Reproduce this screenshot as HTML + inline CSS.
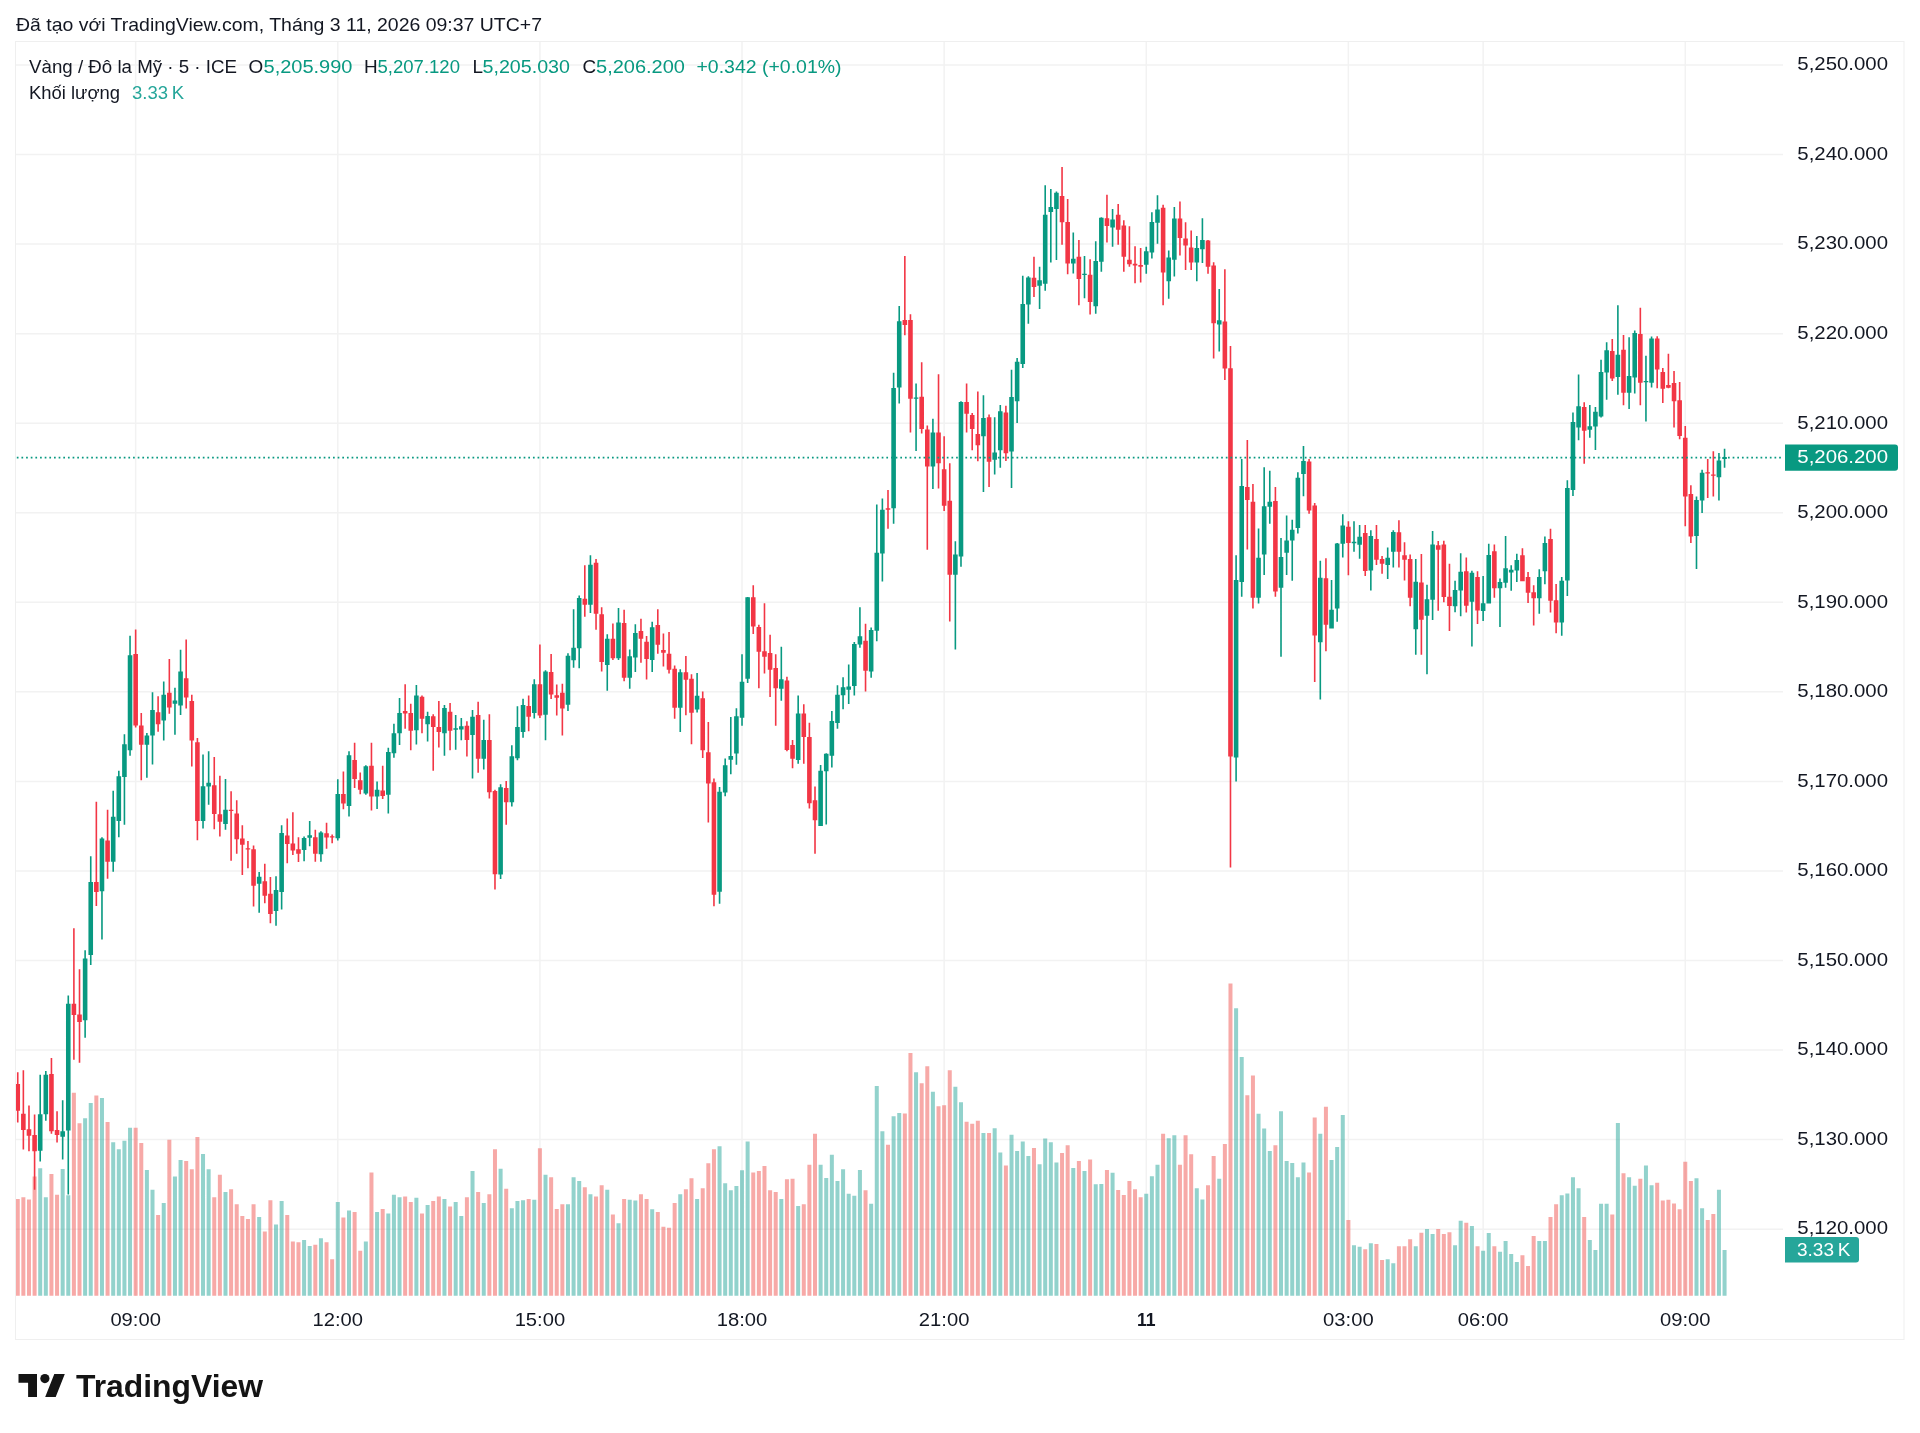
<!DOCTYPE html>
<html><head><meta charset="utf-8"><title>TradingView chart</title>
<style>
html,body{margin:0;padding:0;background:#fff;width:1920px;height:1433px;overflow:hidden}
svg{display:block;will-change:transform}
text{font-family:"Liberation Sans",Arial,sans-serif}
</style></head><body>
<svg width="1920" height="1433" viewBox="0 0 1920 1433">
<rect width="1920" height="1433" fill="#ffffff"/>
<path d="M16 65.00H1783 M16 154.55H1783 M16 244.10H1783 M16 333.65H1783 M16 423.20H1783 M16 512.75H1783 M16 602.30H1783 M16 691.85H1783 M16 781.40H1783 M16 870.95H1783 M16 960.50H1783 M16 1050.05H1783 M16 1139.60H1783 M16 1229.15H1783 M135.65 42V1296 M337.78 42V1296 M539.90 42V1296 M742.02 42V1296 M944.14 42V1296 M1146.26 42V1296 M1348.39 42V1296 M1483.13 42V1296 M1685.26 42V1296" stroke="#f2f2f2" stroke-width="1.5" fill="none"/>
<rect x="15.5" y="41.5" width="1888.5" height="1298" fill="none" stroke="#efefef" stroke-width="1"/>
<defs><clipPath id="pane"><rect x="16" y="42" width="1767" height="1254"/></clipPath></defs>
<g clip-path="url(#pane)">
<path d="M38.21 1168.19h4.0V1295.7h-4.0zM43.82 1197.34h4.0V1295.7h-4.0zM60.67 1168.94h4.0V1295.7h-4.0zM66.28 1195.33h4.0V1295.7h-4.0zM83.12 1118.19h4.0V1295.7h-4.0zM88.74 1103.12h4.0V1295.7h-4.0zM99.97 1098.06h4.0V1295.7h-4.0zM111.20 1142.14h4.0V1295.7h-4.0zM116.81 1149.22h4.0V1295.7h-4.0zM122.43 1140.69h4.0V1295.7h-4.0zM128.04 1127.63h4.0V1295.7h-4.0zM144.88 1170.08h4.0V1295.7h-4.0zM150.50 1189.67h4.0V1295.7h-4.0zM161.73 1202.92h4.0V1295.7h-4.0zM172.96 1176.43h4.0V1295.7h-4.0zM178.57 1160.10h4.0V1295.7h-4.0zM201.03 1153.93h4.0V1295.7h-4.0zM206.64 1169.35h4.0V1295.7h-4.0zM223.49 1192.03h4.0V1295.7h-4.0zM257.17 1216.89h4.0V1295.7h-4.0zM274.02 1224.51h4.0V1295.7h-4.0zM279.63 1200.92h4.0V1295.7h-4.0zM302.09 1239.93h4.0V1295.7h-4.0zM307.70 1245.91h4.0V1295.7h-4.0zM318.93 1238.29h4.0V1295.7h-4.0zM335.78 1202.01h4.0V1295.7h-4.0zM347.01 1210.54h4.0V1295.7h-4.0zM363.85 1241.38h4.0V1295.7h-4.0zM375.08 1211.99h4.0V1295.7h-4.0zM386.31 1213.62h4.0V1295.7h-4.0zM391.92 1194.75h4.0V1295.7h-4.0zM397.54 1197.29h4.0V1295.7h-4.0zM414.38 1197.84h4.0V1295.7h-4.0zM425.61 1205.09h4.0V1295.7h-4.0zM442.45 1199.11h4.0V1295.7h-4.0zM453.68 1202.01h4.0V1295.7h-4.0zM459.30 1215.98h4.0V1295.7h-4.0zM470.52 1170.99h4.0V1295.7h-4.0zM481.75 1202.92h4.0V1295.7h-4.0zM498.60 1168.81h4.0V1295.7h-4.0zM509.83 1208.18h4.0V1295.7h-4.0zM515.44 1201.10h4.0V1295.7h-4.0zM521.05 1200.20h4.0V1295.7h-4.0zM532.28 1199.65h4.0V1295.7h-4.0zM543.51 1174.80h4.0V1295.7h-4.0zM565.97 1204.19h4.0V1295.7h-4.0zM571.59 1177.34h4.0V1295.7h-4.0zM577.20 1180.97h4.0V1295.7h-4.0zM588.43 1194.21h4.0V1295.7h-4.0zM605.27 1189.67h4.0V1295.7h-4.0zM616.50 1223.24h4.0V1295.7h-4.0zM627.73 1199.65h4.0V1295.7h-4.0zM633.34 1200.56h4.0V1295.7h-4.0zM650.19 1209.27h4.0V1295.7h-4.0zM678.26 1194.21h4.0V1295.7h-4.0zM695.10 1199.11h4.0V1295.7h-4.0zM717.56 1146.13h4.0V1295.7h-4.0zM723.18 1183.32h4.0V1295.7h-4.0zM728.79 1190.22h4.0V1295.7h-4.0zM734.41 1186.04h4.0V1295.7h-4.0zM740.02 1170.26h4.0V1295.7h-4.0zM745.63 1141.60h4.0V1295.7h-4.0zM779.32 1199.11h4.0V1295.7h-4.0zM796.17 1206.00h4.0V1295.7h-4.0zM818.62 1164.82h4.0V1295.7h-4.0zM824.24 1177.88h4.0V1295.7h-4.0zM829.85 1154.66h4.0V1295.7h-4.0zM835.47 1180.97h4.0V1295.7h-4.0zM841.08 1169.35h4.0V1295.7h-4.0zM846.70 1193.66h4.0V1295.7h-4.0zM852.31 1195.66h4.0V1295.7h-4.0zM857.92 1170.08h4.0V1295.7h-4.0zM869.15 1203.64h4.0V1295.7h-4.0zM874.77 1085.90h4.0V1295.7h-4.0zM880.38 1131.26h4.0V1295.7h-4.0zM891.61 1116.20h4.0V1295.7h-4.0zM897.23 1112.93h4.0V1295.7h-4.0zM914.07 1072.29h4.0V1295.7h-4.0zM930.91 1091.71h4.0V1295.7h-4.0zM953.37 1086.63h4.0V1295.7h-4.0zM958.99 1102.23h4.0V1295.7h-4.0zM981.44 1133.07h4.0V1295.7h-4.0zM992.67 1128.35h4.0V1295.7h-4.0zM998.29 1152.48h4.0V1295.7h-4.0zM1009.52 1134.70h4.0V1295.7h-4.0zM1015.13 1151.03h4.0V1295.7h-4.0zM1020.75 1141.60h4.0V1295.7h-4.0zM1026.36 1156.11h4.0V1295.7h-4.0zM1037.59 1164.27h4.0V1295.7h-4.0zM1043.20 1138.51h4.0V1295.7h-4.0zM1048.82 1142.14h4.0V1295.7h-4.0zM1054.43 1162.46h4.0V1295.7h-4.0zM1071.28 1167.90h4.0V1295.7h-4.0zM1082.50 1170.99h4.0V1295.7h-4.0zM1093.73 1184.23h4.0V1295.7h-4.0zM1099.35 1184.12h4.0V1295.7h-4.0zM1110.58 1172.78h4.0V1295.7h-4.0zM1144.26 1193.87h4.0V1295.7h-4.0zM1149.88 1176.18h4.0V1295.7h-4.0zM1155.49 1164.84h4.0V1295.7h-4.0zM1166.72 1138.30h4.0V1295.7h-4.0zM1172.34 1135.35h4.0V1295.7h-4.0zM1194.79 1188.20h4.0V1295.7h-4.0zM1200.41 1199.54h4.0V1295.7h-4.0zM1217.25 1178.67h4.0V1295.7h-4.0zM1234.10 1008.34h4.0V1295.7h-4.0zM1239.71 1057.10h4.0V1295.7h-4.0zM1256.55 1113.81h4.0V1295.7h-4.0zM1262.17 1128.55h4.0V1295.7h-4.0zM1267.78 1151.03h4.0V1295.7h-4.0zM1279.01 1111.30h4.0V1295.7h-4.0zM1284.63 1161.01h4.0V1295.7h-4.0zM1290.24 1163.00h4.0V1295.7h-4.0zM1295.86 1177.34h4.0V1295.7h-4.0zM1301.47 1162.46h4.0V1295.7h-4.0zM1318.31 1133.80h4.0V1295.7h-4.0zM1329.54 1160.10h4.0V1295.7h-4.0zM1335.16 1147.04h4.0V1295.7h-4.0zM1340.77 1114.93h4.0V1295.7h-4.0zM1352.00 1245.37h4.0V1295.7h-4.0zM1357.62 1246.82h4.0V1295.7h-4.0zM1368.84 1243.19h4.0V1295.7h-4.0zM1385.69 1259.16h4.0V1295.7h-4.0zM1391.30 1263.15h4.0V1295.7h-4.0zM1413.76 1246.28h4.0V1295.7h-4.0zM1424.99 1229.04h4.0V1295.7h-4.0zM1430.60 1233.98h4.0V1295.7h-4.0zM1453.06 1245.15h4.0V1295.7h-4.0zM1458.68 1220.73h4.0V1295.7h-4.0zM1469.91 1226.03h4.0V1295.7h-4.0zM1481.13 1250.73h4.0V1295.7h-4.0zM1486.75 1233.01h4.0V1295.7h-4.0zM1497.98 1251.71h4.0V1295.7h-4.0zM1503.59 1240.96h4.0V1295.7h-4.0zM1509.21 1253.94h4.0V1295.7h-4.0zM1514.82 1261.90h4.0V1295.7h-4.0zM1537.28 1240.96h4.0V1295.7h-4.0zM1542.89 1240.96h4.0V1295.7h-4.0zM1559.74 1195.18h4.0V1295.7h-4.0zM1565.35 1193.51h4.0V1295.7h-4.0zM1570.97 1177.18h4.0V1295.7h-4.0zM1576.58 1188.21h4.0V1295.7h-4.0zM1587.81 1239.99h4.0V1295.7h-4.0zM1593.42 1250.03h4.0V1295.7h-4.0zM1599.04 1203.70h4.0V1295.7h-4.0zM1604.65 1203.70h4.0V1295.7h-4.0zM1615.88 1123.03h4.0V1295.7h-4.0zM1627.11 1177.18h4.0V1295.7h-4.0zM1632.73 1185.83h4.0V1295.7h-4.0zM1643.95 1165.60h4.0V1295.7h-4.0zM1649.57 1185.14h4.0V1295.7h-4.0zM1694.49 1178.16h4.0V1295.7h-4.0zM1700.10 1208.16h4.0V1295.7h-4.0zM1716.94 1189.74h4.0V1295.7h-4.0zM1722.56 1250.03h4.0V1295.7h-4.0z" fill="rgba(38,166,154,0.5)"/>
<path d="M15.75 1199.10h4.0V1295.7h-4.0zM21.36 1197.34h4.0V1295.7h-4.0zM26.98 1199.60h4.0V1295.7h-4.0zM32.59 1176.48h4.0V1295.7h-4.0zM49.44 1173.97h4.0V1295.7h-4.0zM55.05 1194.82h4.0V1295.7h-4.0zM71.89 1092.81h4.0V1295.7h-4.0zM77.51 1123.22h4.0V1295.7h-4.0zM94.35 1095.58h4.0V1295.7h-4.0zM105.58 1122.00h4.0V1295.7h-4.0zM133.65 1127.63h4.0V1295.7h-4.0zM139.27 1143.05h4.0V1295.7h-4.0zM156.11 1215.07h4.0V1295.7h-4.0zM167.34 1139.78h4.0V1295.7h-4.0zM184.19 1161.01h4.0V1295.7h-4.0zM189.80 1169.35h4.0V1295.7h-4.0zM195.41 1137.06h4.0V1295.7h-4.0zM212.26 1197.29h4.0V1295.7h-4.0zM217.87 1174.80h4.0V1295.7h-4.0zM229.10 1189.13h4.0V1295.7h-4.0zM234.72 1204.19h4.0V1295.7h-4.0zM240.33 1215.98h4.0V1295.7h-4.0zM245.94 1219.06h4.0V1295.7h-4.0zM251.56 1204.19h4.0V1295.7h-4.0zM262.79 1231.40h4.0V1295.7h-4.0zM268.40 1200.20h4.0V1295.7h-4.0zM285.25 1215.07h4.0V1295.7h-4.0zM290.86 1241.38h4.0V1295.7h-4.0zM296.47 1242.29h4.0V1295.7h-4.0zM313.32 1244.64h4.0V1295.7h-4.0zM324.55 1242.29h4.0V1295.7h-4.0zM330.16 1259.16h4.0V1295.7h-4.0zM341.39 1217.43h4.0V1295.7h-4.0zM352.62 1211.99h4.0V1295.7h-4.0zM358.23 1250.81h4.0V1295.7h-4.0zM369.46 1172.44h4.0V1295.7h-4.0zM380.69 1209.09h4.0V1295.7h-4.0zM403.15 1196.39h4.0V1295.7h-4.0zM408.76 1202.01h4.0V1295.7h-4.0zM419.99 1213.62h4.0V1295.7h-4.0zM431.22 1200.92h4.0V1295.7h-4.0zM436.84 1196.39h4.0V1295.7h-4.0zM448.07 1206.55h4.0V1295.7h-4.0zM464.91 1197.29h4.0V1295.7h-4.0zM476.14 1192.03h4.0V1295.7h-4.0zM487.37 1194.21h4.0V1295.7h-4.0zM492.98 1149.22h4.0V1295.7h-4.0zM504.21 1188.77h4.0V1295.7h-4.0zM526.67 1199.11h4.0V1295.7h-4.0zM537.90 1148.31h4.0V1295.7h-4.0zM549.13 1177.34h4.0V1295.7h-4.0zM554.74 1209.09h4.0V1295.7h-4.0zM560.36 1204.19h4.0V1295.7h-4.0zM582.81 1187.31h4.0V1295.7h-4.0zM594.04 1196.57h4.0V1295.7h-4.0zM599.66 1185.14h4.0V1295.7h-4.0zM610.89 1214.53h4.0V1295.7h-4.0zM622.12 1199.11h4.0V1295.7h-4.0zM638.96 1194.21h4.0V1295.7h-4.0zM644.57 1199.11h4.0V1295.7h-4.0zM655.80 1211.99h4.0V1295.7h-4.0zM661.42 1226.87h4.0V1295.7h-4.0zM667.03 1227.77h4.0V1295.7h-4.0zM672.65 1202.92h4.0V1295.7h-4.0zM683.88 1189.13h4.0V1295.7h-4.0zM689.49 1178.24h4.0V1295.7h-4.0zM700.72 1188.22h4.0V1295.7h-4.0zM706.33 1163.37h4.0V1295.7h-4.0zM711.95 1149.22h4.0V1295.7h-4.0zM751.25 1172.44h4.0V1295.7h-4.0zM756.86 1170.99h4.0V1295.7h-4.0zM762.48 1166.09h4.0V1295.7h-4.0zM768.09 1190.22h4.0V1295.7h-4.0zM773.71 1192.03h4.0V1295.7h-4.0zM784.94 1179.33h4.0V1295.7h-4.0zM790.55 1178.79h4.0V1295.7h-4.0zM801.78 1204.19h4.0V1295.7h-4.0zM807.39 1164.82h4.0V1295.7h-4.0zM813.01 1133.80h4.0V1295.7h-4.0zM863.54 1190.22h4.0V1295.7h-4.0zM886.00 1144.68h4.0V1295.7h-4.0zM902.84 1113.48h4.0V1295.7h-4.0zM908.46 1053.06h4.0V1295.7h-4.0zM919.68 1083.18h4.0V1295.7h-4.0zM925.30 1066.31h4.0V1295.7h-4.0zM936.53 1106.22h4.0V1295.7h-4.0zM942.14 1105.31h4.0V1295.7h-4.0zM947.76 1070.30h4.0V1295.7h-4.0zM964.60 1121.64h4.0V1295.7h-4.0zM970.21 1123.82h4.0V1295.7h-4.0zM975.83 1120.73h4.0V1295.7h-4.0zM987.06 1133.07h4.0V1295.7h-4.0zM1003.90 1165.54h4.0V1295.7h-4.0zM1031.97 1147.95h4.0V1295.7h-4.0zM1060.05 1153.03h4.0V1295.7h-4.0zM1065.66 1145.22h4.0V1295.7h-4.0zM1076.89 1161.01h4.0V1295.7h-4.0zM1088.12 1159.38h4.0V1295.7h-4.0zM1104.96 1170.06h4.0V1295.7h-4.0zM1116.19 1190.01h4.0V1295.7h-4.0zM1121.81 1195.00h4.0V1295.7h-4.0zM1127.42 1180.94h4.0V1295.7h-4.0zM1133.04 1189.33h4.0V1295.7h-4.0zM1138.65 1197.27h4.0V1295.7h-4.0zM1161.11 1133.77h4.0V1295.7h-4.0zM1177.95 1164.84h4.0V1295.7h-4.0zM1183.57 1135.35h4.0V1295.7h-4.0zM1189.18 1154.18h4.0V1295.7h-4.0zM1206.02 1185.25h4.0V1295.7h-4.0zM1211.64 1155.99h4.0V1295.7h-4.0zM1222.87 1143.97h4.0V1295.7h-4.0zM1228.48 983.39h4.0V1295.7h-4.0zM1245.33 1095.21h4.0V1295.7h-4.0zM1250.94 1075.48h4.0V1295.7h-4.0zM1273.40 1145.22h4.0V1295.7h-4.0zM1307.08 1172.44h4.0V1295.7h-4.0zM1312.70 1117.47h4.0V1295.7h-4.0zM1323.93 1106.76h4.0V1295.7h-4.0zM1346.39 1219.97h4.0V1295.7h-4.0zM1363.23 1249.18h4.0V1295.7h-4.0zM1374.46 1244.10h4.0V1295.7h-4.0zM1380.07 1260.07h4.0V1295.7h-4.0zM1396.92 1246.28h4.0V1295.7h-4.0zM1402.53 1246.28h4.0V1295.7h-4.0zM1408.15 1239.20h4.0V1295.7h-4.0zM1419.38 1232.85h4.0V1295.7h-4.0zM1436.22 1229.10h4.0V1295.7h-4.0zM1441.83 1233.98h4.0V1295.7h-4.0zM1447.45 1232.17h4.0V1295.7h-4.0zM1464.29 1222.82h4.0V1295.7h-4.0zM1475.52 1246.13h4.0V1295.7h-4.0zM1492.36 1246.13h4.0V1295.7h-4.0zM1520.44 1255.34h4.0V1295.7h-4.0zM1526.05 1266.09h4.0V1295.7h-4.0zM1531.66 1236.08h4.0V1295.7h-4.0zM1548.51 1216.96h4.0V1295.7h-4.0zM1554.12 1204.26h4.0V1295.7h-4.0zM1582.20 1216.96h4.0V1295.7h-4.0zM1610.27 1214.45h4.0V1295.7h-4.0zM1621.50 1173.27h4.0V1295.7h-4.0zM1638.34 1178.86h4.0V1295.7h-4.0zM1655.18 1182.76h4.0V1295.7h-4.0zM1660.80 1200.49h4.0V1295.7h-4.0zM1666.41 1199.79h4.0V1295.7h-4.0zM1672.03 1203.56h4.0V1295.7h-4.0zM1677.64 1209.14h4.0V1295.7h-4.0zM1683.26 1161.83h4.0V1295.7h-4.0zM1688.87 1180.95h4.0V1295.7h-4.0zM1705.71 1220.03h4.0V1295.7h-4.0zM1711.33 1214.03h4.0V1295.7h-4.0z" fill="rgba(239,83,80,0.5)"/>
<path d="M39.41 1074.72h1.6V1161.41h-1.6zM37.91 1114.17h4.6V1150.85h-4.6zM45.02 1070.95h1.6V1120.70h-1.6zM43.52 1074.72h4.6V1114.17h-4.6zM61.87 1100.35h1.6V1159.40h-1.6zM60.37 1131.26h4.6V1136.78h-4.6zM67.48 995.58h1.6V1194.57h-1.6zM65.98 1003.87h4.6V1130.50h-4.6zM84.32 950.35h1.6V1037.79h-1.6zM82.82 958.39h4.6V1020.20h-4.6zM89.94 856.18h1.6V964.97h-1.6zM88.44 882.06h4.6V954.92h-4.6zM101.17 837.34h1.6V939.60h-1.6zM99.67 838.59h4.6V891.36h-4.6zM112.40 790.85h1.6V871.76h-1.6zM110.90 816.73h4.6V861.71h-4.6zM118.01 770.75h1.6V837.34h-1.6zM116.51 776.28h4.6V821.01h-4.6zM123.63 734.32h1.6V824.77h-1.6zM122.13 744.37h4.6V777.04h-4.6zM129.24 635.83h1.6V755.68h-1.6zM127.74 655.18h4.6V750.15h-4.6zM146.08 733.07h1.6V777.79h-1.6zM144.58 735.58h4.6V744.87h-4.6zM151.70 692.36h1.6V764.47h-1.6zM150.20 709.95h4.6V735.58h-4.6zM162.93 681.56h1.6V740.60h-1.6zM161.43 694.87h4.6V720.50h-4.6zM174.16 687.84h1.6V734.82h-1.6zM172.66 700.40h4.6V703.67h-4.6zM179.77 649.65h1.6V714.97h-1.6zM178.27 671.51h4.6V705.43h-4.6zM202.23 754.42h1.6V828.54h-1.6zM200.73 786.33h4.6V821.01h-4.6zM207.84 751.16h1.6V804.67h-1.6zM206.34 782.81h4.6V786.58h-4.6zM224.69 779.05h1.6V829.80h-1.6zM223.19 809.70h4.6V824.02h-4.6zM258.37 872.01h1.6V912.71h-1.6zM256.87 876.78h4.6V883.82h-4.6zM275.22 876.28h1.6V925.78h-1.6zM273.72 890.10h4.6V910.95h-4.6zM280.83 825.28h1.6V909.45h-1.6zM279.33 833.07h4.6V892.11h-4.6zM303.29 836.58h1.6V861.21h-1.6zM301.79 838.09h4.6V849.90h-4.6zM308.90 821.01h1.6V846.13h-1.6zM307.40 835.33h4.6V837.84h-4.6zM320.13 831.16h1.6V861.81h-1.6zM318.63 832.41h4.6V854.27h-4.6zM336.98 779.15h1.6V840.45h-1.6zM335.48 793.97h4.6V838.19h-4.6zM348.21 751.26h1.6V816.58h-1.6zM346.71 755.28h4.6V806.03h-4.6zM365.05 765.33h1.6V794.72h-1.6zM363.55 766.33h4.6V793.47h-4.6zM376.28 781.41h1.6V809.05h-1.6zM374.78 789.70h4.6V796.48h-4.6zM387.51 747.74h1.6V813.57h-1.6zM386.01 752.01h4.6V794.72h-4.6zM393.12 723.87h1.6V757.79h-1.6zM391.62 733.17h4.6V753.27h-4.6zM398.74 697.99h1.6V744.97h-1.6zM397.24 713.07h4.6V733.17h-4.6zM415.58 684.92h1.6V744.47h-1.6zM414.08 695.48h4.6V730.15h-4.6zM426.81 711.81h1.6V741.46h-1.6zM425.31 716.08h4.6V724.37h-4.6zM443.65 705.03h1.6V755.78h-1.6zM442.15 708.04h4.6V733.17h-4.6zM454.88 715.08h1.6V749.75h-1.6zM453.38 728.14h4.6V729.65h-4.6zM460.50 718.09h1.6V740.20h-1.6zM459.00 726.13h4.6V729.40h-4.6zM471.72 710.05h1.6V778.39h-1.6zM470.22 716.83h4.6V734.92h-4.6zM482.95 719.85h1.6V769.60h-1.6zM481.45 739.95h4.6V758.79h-4.6zM499.80 784.17h1.6V878.89h-1.6zM498.30 787.19h4.6V874.62h-4.6zM511.03 745.23h1.6V806.53h-1.6zM509.53 756.28h4.6V802.26h-4.6zM516.64 706.28h1.6V760.30h-1.6zM515.14 726.88h4.6V758.29h-4.6zM522.25 698.74h1.6V737.69h-1.6zM520.75 705.03h4.6V731.91h-4.6zM533.48 679.15h1.6V718.59h-1.6zM531.98 684.17h4.6V713.07h-4.6zM544.71 670.35h1.6V740.20h-1.6zM543.21 671.61h4.6V714.82h-4.6zM567.17 653.17h1.6V710.95h-1.6zM565.67 655.68h4.6V704.67h-4.6zM572.79 609.20h1.6V667.74h-1.6zM571.29 647.64h4.6V660.20h-4.6zM578.40 595.38h1.6V668.24h-1.6zM576.90 597.89h4.6V648.14h-4.6zM589.63 555.18h1.6V612.96h-1.6zM588.13 564.72h4.6V604.67h-4.6zM606.47 634.32h1.6V690.85h-1.6zM604.97 638.84h4.6V664.97h-4.6zM617.70 607.94h1.6V659.95h-1.6zM616.20 622.51h4.6V658.19h-4.6zM628.93 649.40h1.6V688.84h-1.6zM627.43 656.18h4.6V677.79h-4.6zM634.54 624.27h1.6V672.01h-1.6zM633.04 633.07h4.6V657.44h-4.6zM651.39 621.76h1.6V672.01h-1.6zM649.89 627.29h4.6V659.95h-4.6zM679.46 669.30h1.6V732.11h-1.6zM677.96 672.31h4.6V707.74h-4.6zM696.30 673.07h1.6V712.51h-1.6zM694.80 695.68h4.6V709.50h-4.6zM718.76 786.88h1.6V903.72h-1.6zM717.26 791.66h4.6V891.66h-4.6zM724.38 758.49h1.6V796.18h-1.6zM722.88 765.28h4.6V792.41h-4.6zM729.99 717.04h1.6V774.32h-1.6zM728.49 755.98h4.6V759.75h-4.6zM735.61 708.24h1.6V764.77h-1.6zM734.11 716.28h4.6V753.47h-4.6zM741.22 654.22h1.6V725.83h-1.6zM739.72 681.86h4.6V717.79h-4.6zM746.84 596.93h1.6V683.12h-1.6zM745.34 597.19h4.6V678.84h-4.6zM780.52 646.68h1.6V700.70h-1.6zM779.02 679.35h4.6V688.64h-4.6zM797.37 695.48h1.6V763.82h-1.6zM795.87 713.57h4.6V760.05h-4.6zM819.82 765.08h1.6V825.88h-1.6zM818.32 770.85h4.6V825.88h-4.6zM825.44 753.27h1.6V824.62h-1.6zM823.94 753.77h4.6V771.36h-4.6zM831.05 711.06h1.6V767.59h-1.6zM829.55 721.11h4.6V755.78h-4.6zM836.67 685.18h1.6V728.64h-1.6zM835.17 694.72h4.6V723.12h-4.6zM842.28 677.14h1.6V709.30h-1.6zM840.78 687.19h4.6V695.23h-4.6zM847.90 664.57h1.6V704.02h-1.6zM846.40 686.43h4.6V689.70h-4.6zM853.51 641.96h1.6V695.48h-1.6zM852.01 643.97h4.6V685.93h-4.6zM859.12 607.29h1.6V647.74h-1.6zM857.62 636.18h4.6V644.47h-4.6zM870.35 627.39h1.6V677.64h-1.6zM868.85 629.90h4.6V671.61h-4.6zM875.97 504.52h1.6V641.21h-1.6zM874.47 552.76h4.6V630.65h-4.6zM881.58 498.50h1.6V581.44h-1.6zM880.08 509.64h4.6V553.60h-4.6zM892.81 372.77h1.6V523.70h-1.6zM891.31 388.01h4.6V508.17h-4.6zM898.43 305.94h1.6V403.54h-1.6zM896.93 321.18h4.6V387.42h-4.6zM915.27 383.61h1.6V451.02h-1.6zM913.77 397.39h4.6V398.85h-4.6zM932.11 418.78h1.6V489.12h-1.6zM930.61 432.56h4.6V466.55h-4.6zM954.57 541.29h1.6V649.44h-1.6zM953.07 554.48h4.6V574.70h-4.6zM960.19 401.20h1.6V566.79h-1.6zM958.69 402.08h4.6V556.53h-4.6zM982.64 395.33h1.6V492.05h-1.6zM981.14 417.90h4.6V436.37h-4.6zM993.87 417.32h1.6V474.47h-1.6zM992.37 452.49h4.6V459.81h-4.6zM999.49 405.03h1.6V467.84h-1.6zM997.99 411.31h4.6V450.25h-4.6zM1010.72 369.85h1.6V487.94h-1.6zM1009.22 396.98h4.6V451.51h-4.6zM1016.33 358.04h1.6V423.12h-1.6zM1014.83 361.81h4.6V401.26h-4.6zM1021.95 275.63h1.6V368.09h-1.6zM1020.45 304.02h4.6V364.07h-4.6zM1027.56 276.13h1.6V323.87h-1.6zM1026.06 277.39h4.6V304.52h-4.6zM1038.79 266.83h1.6V309.05h-1.6zM1037.29 280.15h4.6V285.68h-4.6zM1044.40 185.18h1.6V290.70h-1.6zM1042.90 214.82h4.6V283.67h-4.6zM1050.02 188.94h1.6V262.56h-1.6zM1048.52 207.04h4.6V212.06h-4.6zM1055.63 191.46h1.6V260.05h-1.6zM1054.13 192.71h4.6V209.05h-4.6zM1072.48 232.41h1.6V273.62h-1.6zM1070.98 258.79h4.6V263.57h-4.6zM1083.70 256.03h1.6V298.24h-1.6zM1082.20 273.77h4.6V274.97h-4.6zM1094.93 241.21h1.6V313.82h-1.6zM1093.43 261.06h4.6V306.28h-4.6zM1100.55 217.34h1.6V271.86h-1.6zM1099.05 217.84h4.6V261.81h-4.6zM1111.78 209.05h1.6V246.73h-1.6zM1110.28 219.60h4.6V227.39h-4.6zM1145.46 246.73h1.6V273.87h-1.6zM1143.96 251.26h4.6V264.82h-4.6zM1151.08 212.31h1.6V258.54h-1.6zM1149.58 222.11h4.6V252.51h-4.6zM1156.69 195.23h1.6V243.72h-1.6zM1155.19 209.55h4.6V222.86h-4.6zM1167.92 250.50h1.6V298.74h-1.6zM1166.42 257.54h4.6V281.16h-4.6zM1173.54 207.04h1.6V276.38h-1.6zM1172.04 218.59h4.6V259.80h-4.6zM1195.99 235.93h1.6V281.16h-1.6zM1194.49 247.99h4.6V262.56h-4.6zM1201.61 218.34h1.6V263.07h-1.6zM1200.11 239.95h4.6V249.25h-4.6zM1218.45 288.94h1.6V351.51h-1.6zM1216.95 320.35h4.6V324.62h-4.6zM1235.30 555.20h1.6V781.60h-1.6zM1233.80 580.00h4.6V757.50h-4.6zM1240.91 458.94h1.6V596.63h-1.6zM1239.41 486.08h4.6V582.06h-4.6zM1257.75 528.54h1.6V603.42h-1.6zM1256.25 557.69h4.6V597.64h-4.6zM1263.37 467.24h1.6V575.03h-1.6zM1261.87 506.18h4.6V554.42h-4.6zM1268.98 470.75h1.6V523.77h-1.6zM1267.48 501.66h4.6V506.68h-4.6zM1280.21 538.09h1.6V656.68h-1.6zM1278.71 556.93h4.6V587.84h-4.6zM1285.83 515.48h1.6V575.03h-1.6zM1284.33 540.60h4.6V552.66h-4.6zM1291.44 519.75h1.6V580.80h-1.6zM1289.94 529.80h4.6V540.60h-4.6zM1297.06 472.26h1.6V533.57h-1.6zM1295.56 477.79h4.6V528.04h-4.6zM1302.67 445.88h1.6V496.13h-1.6zM1301.17 460.95h4.6V474.02h-4.6zM1319.51 560.70h1.6V699.40h-1.6zM1318.01 577.79h4.6V642.36h-4.6zM1330.74 580.05h1.6V628.54h-1.6zM1329.24 609.70h4.6V628.54h-4.6zM1336.36 543.12h1.6V621.76h-1.6zM1334.86 543.62h4.6V608.44h-4.6zM1341.97 514.22h1.6V557.44h-1.6zM1340.47 525.53h4.6V543.87h-4.6zM1353.20 521.14h1.6V551.69h-1.6zM1351.70 541.87h4.6V543.25h-4.6zM1358.82 524.98h1.6V558.75h-1.6zM1357.32 536.80h4.6V544.78h-4.6zM1370.04 530.35h1.6V590.53h-1.6zM1368.54 536.03h4.6V570.57h-4.6zM1386.89 547.55h1.6V579.02h-1.6zM1385.39 557.83h4.6V564.89h-4.6zM1392.50 530.20h1.6V567.50h-1.6zM1391.00 531.89h4.6V551.85h-4.6zM1414.96 559.06h1.6V654.70h-1.6zM1413.46 581.78h4.6V629.22h-4.6zM1426.19 584.85h1.6V674.20h-1.6zM1424.69 599.28h4.6V615.86h-4.6zM1431.80 531.12h1.6V620.01h-1.6zM1430.30 544.48h4.6V599.74h-4.6zM1454.26 580.86h1.6V612.33h-1.6zM1452.76 590.07h4.6V606.19h-4.6zM1459.88 553.23h1.6V616.17h-1.6zM1458.38 571.65h4.6V590.53h-4.6zM1471.11 570.86h1.6V646.54h-1.6zM1469.61 572.86h4.6V601.72h-4.6zM1482.33 575.93h1.6V620.91h-1.6zM1480.83 603.25h4.6V610.93h-4.6zM1487.95 543.69h1.6V603.56h-1.6zM1486.45 554.89h4.6V603.56h-4.6zM1499.18 578.54h1.6V626.89h-1.6zM1497.68 582.07h4.6V588.21h-4.6zM1504.79 536.01h1.6V587.75h-1.6zM1503.29 568.25h4.6V582.83h-4.6zM1510.41 565.18h1.6V590.82h-1.6zM1508.91 569.79h4.6V572.55h-4.6zM1516.02 553.67h1.6V582.07h-1.6zM1514.52 560.11h4.6V570.55h-4.6zM1538.48 569.32h1.6V613.84h-1.6zM1536.98 577.00h4.6V598.19h-4.6zM1544.09 536.47h1.6V584.37h-1.6zM1542.59 542.92h4.6V571.32h-4.6zM1560.94 577.00h1.6V635.80h-1.6zM1559.44 580.84h4.6V622.44h-4.6zM1566.55 480.29h1.6V595.88h-1.6zM1565.05 487.96h4.6V580.53h-4.6zM1572.17 412.44h1.6V496.03h-1.6zM1570.67 421.96h4.6V489.96h-4.6zM1577.78 374.60h1.6V440.17h-1.6zM1576.28 406.37h4.6V427.62h-4.6zM1589.01 404.96h1.6V437.74h-1.6zM1587.51 426.21h4.6V429.65h-4.6zM1594.62 406.98h1.6V449.89h-1.6zM1593.12 411.84h4.6V426.61h-4.6zM1600.24 359.82h1.6V417.50h-1.6zM1598.74 371.97h4.6V416.49h-4.6zM1605.85 342.22h1.6V399.69h-1.6zM1604.35 350.31h4.6V372.57h-4.6zM1617.08 305.18h1.6V394.63h-1.6zM1615.58 354.76h4.6V377.03h-4.6zM1628.31 337.16h1.6V409.00h-1.6zM1626.81 376.01h4.6V392.81h-4.6zM1633.93 330.48h1.6V393.62h-1.6zM1632.43 333.11h4.6V377.43h-4.6zM1645.15 355.78h1.6V421.55h-1.6zM1643.65 380.98h4.6V382.18h-4.6zM1650.77 336.55h1.6V387.55h-1.6zM1649.27 338.57h4.6V382.69h-4.6zM1695.69 496.44h1.6V568.89h-1.6zM1694.19 500.08h4.6V535.90h-4.6zM1701.30 469.72h1.6V513.03h-1.6zM1699.80 472.76h4.6V500.48h-4.6zM1718.14 452.92h1.6V500.48h-1.6zM1716.64 460.61h4.6V477.21h-4.6zM1723.76 448.87h1.6V467.70h-1.6zM1722.26 456.97h4.6V458.99h-4.6z" fill="#089981"/>
<path d="M16.95 1072.21h1.6V1122.46h-1.6zM15.45 1084.02h4.6V1110.65h-4.6zM22.56 1070.20h1.6V1149.60h-1.6zM21.06 1113.67h4.6V1130.00h-4.6zM28.18 1105.38h1.6V1151.36h-1.6zM26.68 1129.25h4.6V1135.78h-4.6zM33.79 1114.42h1.6V1189.80h-1.6zM32.29 1135.03h4.6V1151.36h-4.6zM50.64 1057.89h1.6V1133.77h-1.6zM49.14 1073.97h4.6V1131.26h-4.6zM56.25 1111.16h1.6V1142.56h-1.6zM54.75 1130.00h4.6V1135.03h-4.6zM73.09 928.24h1.6V1059.65h-1.6zM71.59 1003.87h4.6V1014.92h-4.6zM78.71 969.20h1.6V1062.66h-1.6zM77.21 1014.42h4.6V1021.96h-4.6zM95.55 801.66h1.6V905.93h-1.6zM94.05 882.06h4.6V892.11h-4.6zM106.78 809.70h1.6V878.79h-1.6zM105.28 840.60h4.6V861.71h-4.6zM134.85 629.55h1.6V727.54h-1.6zM133.35 653.92h4.6V725.53h-4.6zM140.47 712.96h1.6V780.30h-1.6zM138.97 725.53h4.6V744.87h-4.6zM157.31 696.13h1.6V731.81h-1.6zM155.81 712.21h4.6V724.27h-4.6zM168.54 658.94h1.6V713.72h-1.6zM167.04 692.86h4.6V707.44h-4.6zM185.38 639.60h1.6V708.44h-1.6zM183.88 678.29h4.6V697.39h-4.6zM191.00 694.87h1.6V766.48h-1.6zM189.50 700.90h4.6V740.60h-4.6zM196.61 738.09h1.6V840.35h-1.6zM195.11 742.36h4.6V821.01h-4.6zM213.46 756.93h1.6V829.30h-1.6zM211.96 785.33h4.6V813.97h-4.6zM219.07 775.78h1.6V836.58h-1.6zM217.57 814.22h4.6V821.76h-4.6zM230.30 791.36h1.6V860.70h-1.6zM228.80 809.70h4.6V810.95h-4.6zM235.92 800.15h1.6V853.67h-1.6zM234.42 813.47h4.6V839.35h-4.6zM241.53 825.28h1.6V875.03h-1.6zM240.03 838.59h4.6V844.87h-4.6zM247.14 841.11h1.6V868.24h-1.6zM245.64 848.14h4.6V849.40h-4.6zM252.76 845.38h1.6V906.43h-1.6zM251.26 849.15h4.6V885.83h-4.6zM263.99 863.72h1.6V903.17h-1.6zM262.49 881.31h4.6V895.63h-4.6zM269.60 877.04h1.6V923.27h-1.6zM268.10 893.87h4.6V913.97h-4.6zM286.45 818.49h1.6V863.22h-1.6zM284.95 835.58h4.6V844.12h-4.6zM292.06 812.21h1.6V854.92h-1.6zM290.56 843.62h4.6V850.40h-4.6zM297.67 837.34h1.6V861.96h-1.6zM296.17 849.15h4.6V853.67h-4.6zM314.52 829.80h1.6V861.71h-1.6zM313.02 837.34h4.6V853.67h-4.6zM325.75 822.86h1.6V848.74h-1.6zM324.25 833.17h4.6V837.44h-4.6zM331.36 834.42h1.6V843.22h-1.6zM329.86 836.18h4.6V837.44h-4.6zM342.59 771.61h1.6V809.30h-1.6zM341.09 793.97h4.6V803.52h-4.6zM353.82 742.71h1.6V787.94h-1.6zM352.32 760.05h4.6V778.89h-4.6zM359.43 772.61h1.6V794.22h-1.6zM357.93 780.15h4.6V789.70h-4.6zM370.66 742.71h1.6V810.55h-1.6zM369.16 765.83h4.6V796.48h-4.6zM381.89 765.83h1.6V798.99h-1.6zM380.39 790.45h4.6V795.98h-4.6zM404.35 684.17h1.6V728.64h-1.6zM402.85 711.06h4.6V713.57h-4.6zM409.96 703.77h1.6V750.25h-1.6zM408.46 713.07h4.6V730.65h-4.6zM421.19 695.48h1.6V733.17h-1.6zM419.69 696.73h4.6V718.84h-4.6zM432.42 714.32h1.6V770.85h-1.6zM430.92 716.33h4.6V726.88h-4.6zM438.04 701.01h1.6V747.49h-1.6zM436.54 726.88h4.6V731.91h-4.6zM449.27 703.02h1.6V750.25h-1.6zM447.77 711.81h4.6V730.65h-4.6zM466.11 721.36h1.6V756.53h-1.6zM464.61 725.63h4.6V739.95h-4.6zM477.34 701.76h1.6V772.86h-1.6zM475.84 715.08h4.6V758.79h-4.6zM488.57 714.32h1.6V798.49h-1.6zM487.07 739.95h4.6V792.21h-4.6zM494.18 789.70h1.6V889.45h-1.6zM492.68 790.95h4.6V874.37h-4.6zM505.41 780.90h1.6V824.87h-1.6zM503.91 787.94h4.6V802.26h-4.6zM527.87 695.48h1.6V731.16h-1.6zM526.37 706.03h4.6V716.83h-4.6zM539.10 644.47h1.6V718.09h-1.6zM537.60 684.17h4.6V715.58h-4.6zM550.33 653.92h1.6V698.89h-1.6zM548.83 672.01h4.6V694.62h-4.6zM555.94 684.57h1.6V715.48h-1.6zM554.44 695.13h4.6V697.64h-4.6zM561.56 683.82h1.6V735.58h-1.6zM560.06 692.86h4.6V708.44h-4.6zM584.01 565.23h1.6V616.73h-1.6zM582.51 598.64h4.6V604.67h-4.6zM595.24 558.94h1.6V629.80h-1.6zM593.74 562.71h4.6V613.72h-4.6zM600.86 607.19h1.6V671.51h-1.6zM599.36 614.22h4.6V661.96h-4.6zM612.09 623.52h1.6V659.95h-1.6zM610.59 638.84h4.6V658.19h-4.6zM623.32 609.70h1.6V681.31h-1.6zM621.82 623.02h4.6V677.79h-4.6zM640.16 618.74h1.6V662.71h-1.6zM638.66 631.06h4.6V638.84h-4.6zM645.77 636.08h1.6V679.55h-1.6zM644.27 641.86h4.6V658.94h-4.6zM657.00 609.20h1.6V653.67h-1.6zM655.50 625.03h4.6V644.87h-4.6zM662.62 633.57h1.6V666.48h-1.6zM661.12 649.90h4.6V652.66h-4.6zM668.23 632.11h1.6V673.57h-1.6zM666.73 653.72h4.6V669.80h-4.6zM673.85 665.53h1.6V718.79h-1.6zM672.35 668.79h4.6V707.74h-4.6zM685.08 655.98h1.6V715.28h-1.6zM683.58 672.31h4.6V679.85h-4.6zM690.69 674.32h1.6V744.17h-1.6zM689.19 678.84h4.6V712.76h-4.6zM701.92 691.41h1.6V757.99h-1.6zM700.42 698.19h4.6V750.20h-4.6zM707.53 722.06h1.6V822.56h-1.6zM706.03 752.21h4.6V783.62h-4.6zM713.15 778.59h1.6V906.23h-1.6zM711.65 782.36h4.6V894.67h-4.6zM752.45 585.13h1.6V634.12h-1.6zM750.95 597.19h4.6V626.58h-4.6zM758.06 624.82h1.6V688.14h-1.6zM756.56 627.09h4.6V651.71h-4.6zM763.68 603.22h1.6V673.57h-1.6zM762.18 651.21h4.6V656.73h-4.6zM769.29 634.87h1.6V696.93h-1.6zM767.79 652.96h4.6V669.80h-4.6zM774.91 654.22h1.6V725.83h-1.6zM773.41 668.04h4.6V688.14h-4.6zM786.14 676.63h1.6V751.26h-1.6zM784.64 680.40h4.6V750.00h-4.6zM791.75 739.95h1.6V768.34h-1.6zM790.25 744.97h4.6V758.79h-4.6zM802.98 704.27h1.6V763.82h-1.6zM801.48 713.57h4.6V736.93h-4.6zM808.59 722.86h1.6V808.54h-1.6zM807.09 736.93h4.6V803.27h-4.6zM814.21 786.43h1.6V853.77h-1.6zM812.71 800.25h4.6V820.35h-4.6zM864.74 623.87h1.6V691.46h-1.6zM863.24 640.70h4.6V670.85h-4.6zM887.20 490.00h1.6V528.69h-1.6zM885.70 508.17h4.6V509.64h-4.6zM904.04 256.12h1.6V335.25h-1.6zM902.54 320.01h4.6V324.99h-4.6zM909.66 314.15h1.6V432.56h-1.6zM908.16 320.01h4.6V398.85h-4.6zM920.88 362.22h1.6V433.43h-1.6zM919.38 396.80h4.6V429.04h-4.6zM926.50 425.52h1.6V549.79h-1.6zM925.00 429.62h4.6V466.55h-4.6zM937.73 374.23h1.6V488.53h-1.6zM936.23 432.56h4.6V463.33h-4.6zM943.34 436.37h1.6V511.10h-1.6zM941.84 469.19h4.6V505.83h-4.6zM948.96 463.33h1.6V621.59h-1.6zM947.46 500.84h4.6V574.70h-4.6zM965.80 383.61h1.6V432.56h-1.6zM964.30 402.08h4.6V413.80h-4.6zM971.41 412.92h1.6V450.14h-1.6zM969.91 414.97h4.6V429.04h-4.6zM977.03 391.52h1.6V461.28h-1.6zM975.53 434.02h4.6V445.16h-4.6zM988.26 414.38h1.6V487.07h-1.6zM986.76 417.32h4.6V461.86h-4.6zM1005.10 405.78h1.6V461.06h-1.6zM1003.60 412.56h4.6V453.27h-4.6zM1033.17 256.78h1.6V296.98h-1.6zM1031.67 277.64h4.6V286.93h-4.6zM1061.25 167.09h1.6V244.72h-1.6zM1059.75 195.98h4.6V222.36h-4.6zM1066.86 198.99h1.6V274.37h-1.6zM1065.36 222.11h4.6V263.57h-4.6zM1078.09 239.95h1.6V305.28h-1.6zM1076.59 256.78h4.6V278.89h-4.6zM1089.32 259.30h1.6V314.57h-1.6zM1087.82 274.87h4.6V302.01h-4.6zM1106.16 194.72h1.6V242.46h-1.6zM1104.66 218.34h4.6V225.88h-4.6zM1117.39 204.02h1.6V244.72h-1.6zM1115.89 214.82h4.6V229.65h-4.6zM1123.01 220.35h1.6V271.86h-1.6zM1121.51 225.38h4.6V256.78h-4.6zM1128.62 226.13h1.6V266.83h-1.6zM1127.12 259.80h4.6V264.32h-4.6zM1134.24 246.23h1.6V283.17h-1.6zM1132.74 263.82h4.6V265.58h-4.6zM1139.85 247.99h1.6V282.41h-1.6zM1138.35 265.08h4.6V266.83h-4.6zM1162.31 204.77h1.6V305.28h-1.6zM1160.81 207.79h4.6V272.61h-4.6zM1179.15 201.51h1.6V255.53h-1.6zM1177.65 218.59h4.6V237.94h-4.6zM1184.77 222.36h1.6V270.10h-1.6zM1183.27 238.44h4.6V245.48h-4.6zM1190.38 230.40h1.6V270.10h-1.6zM1188.88 247.49h4.6V262.56h-4.6zM1207.22 239.95h1.6V273.87h-1.6zM1205.72 240.45h4.6V266.83h-4.6zM1212.84 262.31h1.6V358.54h-1.6zM1211.34 265.58h4.6V323.37h-4.6zM1224.07 269.35h1.6V379.90h-1.6zM1222.57 321.61h4.6V368.59h-4.6zM1229.68 346.00h1.6V867.50h-1.6zM1228.18 368.30h4.6V756.40h-4.6zM1246.53 440.10h1.6V549.40h-1.6zM1245.03 487.09h4.6V499.90h-4.6zM1252.14 484.07h1.6V608.44h-1.6zM1250.64 501.66h4.6V597.64h-4.6zM1274.60 487.09h1.6V596.63h-1.6zM1273.10 500.90h4.6V591.61h-4.6zM1308.28 458.94h1.6V513.72h-1.6zM1306.78 461.46h4.6V510.45h-4.6zM1313.90 502.91h1.6V682.06h-1.6zM1312.40 505.43h4.6V635.58h-4.6zM1325.13 558.19h1.6V651.16h-1.6zM1323.63 578.29h4.6V624.77h-4.6zM1347.59 521.14h1.6V575.18h-1.6zM1346.09 526.82h4.6V542.94h-4.6zM1364.43 524.98h1.6V575.95h-1.6zM1362.93 532.96h4.6V571.03h-4.6zM1375.66 524.98h1.6V564.89h-1.6zM1374.16 539.10h4.6V559.83h-4.6zM1381.27 555.99h1.6V573.64h-1.6zM1379.77 559.06h4.6V563.67h-4.6zM1398.12 520.22h1.6V567.50h-1.6zM1396.62 532.20h4.6V551.69h-4.6zM1403.73 542.17h1.6V580.55h-1.6zM1402.23 555.22h4.6V559.83h-4.6zM1409.35 554.46h1.6V606.19h-1.6zM1407.85 559.06h4.6V597.75h-4.6zM1420.58 553.99h1.6V654.70h-1.6zM1419.08 582.39h4.6V619.70h-4.6zM1437.42 541.10h1.6V610.80h-1.6zM1435.92 545.24h4.6V549.85h-4.6zM1443.03 540.64h1.6V602.35h-1.6zM1441.53 544.48h4.6V596.98h-4.6zM1448.65 563.67h1.6V630.91h-1.6zM1447.15 596.67h4.6V605.88h-4.6zM1465.49 557.50h1.6V612.46h-1.6zM1463.99 571.32h4.6V605.86h-4.6zM1476.72 571.32h1.6V623.98h-1.6zM1475.22 577.00h4.6V610.47h-4.6zM1493.56 544.46h1.6V597.72h-1.6zM1492.06 551.36h4.6V588.21h-4.6zM1521.64 548.29h1.6V581.30h-1.6zM1520.14 555.20h4.6V581.30h-4.6zM1527.25 572.09h1.6V603.10h-1.6zM1525.75 577.00h4.6V592.81h-4.6zM1532.87 585.14h1.6V625.51h-1.6zM1531.37 592.35h4.6V598.19h-4.6zM1549.71 528.80h1.6V612.46h-1.6zM1548.21 539.08h4.6V600.80h-4.6zM1555.32 584.06h1.6V633.19h-1.6zM1553.82 600.18h4.6V622.44h-4.6zM1583.40 402.33h1.6V463.65h-1.6zM1581.90 406.98h4.6V430.66h-4.6zM1611.47 338.98h1.6V381.07h-1.6zM1609.97 351.12h4.6V378.44h-4.6zM1622.70 334.93h1.6V405.36h-1.6zM1621.20 349.70h4.6V392.81h-4.6zM1639.54 307.81h1.6V405.36h-1.6zM1638.04 334.12h4.6V382.69h-4.6zM1656.38 336.14h1.6V388.16h-1.6zM1654.88 338.57h4.6V369.54h-4.6zM1662.00 367.92h1.6V402.93h-1.6zM1660.50 371.97h4.6V388.77h-4.6zM1667.61 353.75h1.6V388.16h-1.6zM1666.11 385.12h4.6V387.75h-4.6zM1673.23 370.96h1.6V427.62h-1.6zM1671.73 383.10h4.6V401.31h-4.6zM1678.84 382.09h1.6V439.36h-1.6zM1677.34 400.30h4.6V436.12h-4.6zM1684.46 426.00h1.6V526.19h-1.6zM1682.96 437.74h4.6V496.44h-4.6zM1690.07 485.30h1.6V542.99h-1.6zM1688.57 494.01h4.6V536.51h-4.6zM1706.91 458.99h1.6V498.06h-1.6zM1705.41 472.15h4.6V473.57h-4.6zM1712.53 451.30h1.6V496.44h-1.6zM1711.03 474.58h4.6V475.79h-4.6z" fill="#F23645"/>
</g>
<path d="M16.8 457.53H1781" stroke="#089981" stroke-width="1.7" stroke-dasharray="1.7 2.95" fill="none"/>
<text x="1888" y="70.30" font-size="18.6" fill="#131722" text-anchor="end" textLength="90.7" lengthAdjust="spacingAndGlyphs">5,250.000</text>
<text x="1888" y="159.85" font-size="18.6" fill="#131722" text-anchor="end" textLength="90.7" lengthAdjust="spacingAndGlyphs">5,240.000</text>
<text x="1888" y="249.40" font-size="18.6" fill="#131722" text-anchor="end" textLength="90.7" lengthAdjust="spacingAndGlyphs">5,230.000</text>
<text x="1888" y="338.95" font-size="18.6" fill="#131722" text-anchor="end" textLength="90.7" lengthAdjust="spacingAndGlyphs">5,220.000</text>
<text x="1888" y="428.50" font-size="18.6" fill="#131722" text-anchor="end" textLength="90.7" lengthAdjust="spacingAndGlyphs">5,210.000</text>
<text x="1888" y="518.05" font-size="18.6" fill="#131722" text-anchor="end" textLength="90.7" lengthAdjust="spacingAndGlyphs">5,200.000</text>
<text x="1888" y="607.60" font-size="18.6" fill="#131722" text-anchor="end" textLength="90.7" lengthAdjust="spacingAndGlyphs">5,190.000</text>
<text x="1888" y="697.15" font-size="18.6" fill="#131722" text-anchor="end" textLength="90.7" lengthAdjust="spacingAndGlyphs">5,180.000</text>
<text x="1888" y="786.70" font-size="18.6" fill="#131722" text-anchor="end" textLength="90.7" lengthAdjust="spacingAndGlyphs">5,170.000</text>
<text x="1888" y="876.25" font-size="18.6" fill="#131722" text-anchor="end" textLength="90.7" lengthAdjust="spacingAndGlyphs">5,160.000</text>
<text x="1888" y="965.80" font-size="18.6" fill="#131722" text-anchor="end" textLength="90.7" lengthAdjust="spacingAndGlyphs">5,150.000</text>
<text x="1888" y="1055.35" font-size="18.6" fill="#131722" text-anchor="end" textLength="90.7" lengthAdjust="spacingAndGlyphs">5,140.000</text>
<text x="1888" y="1144.90" font-size="18.6" fill="#131722" text-anchor="end" textLength="90.7" lengthAdjust="spacingAndGlyphs">5,130.000</text>
<text x="1888" y="1234.45" font-size="18.6" fill="#131722" text-anchor="end" textLength="90.7" lengthAdjust="spacingAndGlyphs">5,120.000</text>
<path d="M1785 444.4H1895a3 3 0 0 1 3 3V467.8a3 3 0 0 1 -3 3H1785Z" fill="#089981"/>
<text x="1888" y="462.53" font-size="18.6" fill="#ffffff" text-anchor="end" textLength="90.7" lengthAdjust="spacingAndGlyphs">5,206.200</text>
<path d="M1785 1237H1856a3 3 0 0 1 3 3V1259.6a3 3 0 0 1 -3 3H1785Z" fill="#26a69a"/>
<text x="1797" y="1256.3" font-size="18.6" fill="#ffffff" textLength="53.5" lengthAdjust="spacingAndGlyphs">3.33 K</text>
<text x="135.65" y="1325.5" font-size="17.6" fill="#131722" text-anchor="middle" textLength="50.5" lengthAdjust="spacingAndGlyphs">09:00</text>
<text x="337.78" y="1325.5" font-size="17.6" fill="#131722" text-anchor="middle" textLength="50.5" lengthAdjust="spacingAndGlyphs">12:00</text>
<text x="539.90" y="1325.5" font-size="17.6" fill="#131722" text-anchor="middle" textLength="50.5" lengthAdjust="spacingAndGlyphs">15:00</text>
<text x="742.02" y="1325.5" font-size="17.6" fill="#131722" text-anchor="middle" textLength="50.5" lengthAdjust="spacingAndGlyphs">18:00</text>
<text x="944.14" y="1325.5" font-size="17.6" fill="#131722" text-anchor="middle" textLength="50.5" lengthAdjust="spacingAndGlyphs">21:00</text>
<text x="1146.26" y="1325.5" font-size="17.6" font-weight="bold" fill="#131722" text-anchor="middle">11</text>
<text x="1348.39" y="1325.5" font-size="17.6" fill="#131722" text-anchor="middle" textLength="50.5" lengthAdjust="spacingAndGlyphs">03:00</text>
<text x="1483.13" y="1325.5" font-size="17.6" fill="#131722" text-anchor="middle" textLength="50.5" lengthAdjust="spacingAndGlyphs">06:00</text>
<text x="1685.26" y="1325.5" font-size="17.6" fill="#131722" text-anchor="middle" textLength="50.5" lengthAdjust="spacingAndGlyphs">09:00</text>
<text x="16" y="31.1" font-size="18.6" fill="#131722" textLength="526" lengthAdjust="spacingAndGlyphs">Đã tạo với TradingView.com, Tháng 3 11, 2026 09:37 UTC+7</text>
<text x="29" y="72.5" font-size="18.9" fill="#131722" textLength="208" lengthAdjust="spacingAndGlyphs">Vàng / Đô la Mỹ · 5 · ICE</text>
<text x="248.5" y="72.5" font-size="18.9" fill="#131722">O</text>
<text x="263.5" y="72.5" font-size="18.9" fill="#089981" textLength="89" lengthAdjust="spacingAndGlyphs">5,205.990</text>
<text x="364" y="72.5" font-size="18.9" fill="#131722">H</text>
<text x="377.5" y="72.5" font-size="18.9" fill="#089981" textLength="82.5" lengthAdjust="spacingAndGlyphs">5,207.120</text>
<text x="472.5" y="72.5" font-size="18.9" fill="#131722">L</text>
<text x="482.5" y="72.5" font-size="18.9" fill="#089981" textLength="87.5" lengthAdjust="spacingAndGlyphs">5,205.030</text>
<text x="582.5" y="72.5" font-size="18.9" fill="#131722">C</text>
<text x="596" y="72.5" font-size="18.9" fill="#089981" textLength="89" lengthAdjust="spacingAndGlyphs">5,206.200</text>
<text x="696.5" y="72.5" font-size="18.9" fill="#089981" textLength="145" lengthAdjust="spacingAndGlyphs">+0.342 (+0.01%)</text>
<text x="29" y="99.2" font-size="18.9" fill="#131722" textLength="91" lengthAdjust="spacingAndGlyphs">Khối lượng</text>
<text x="132" y="99.2" font-size="18.9" fill="#26a69a" textLength="52" lengthAdjust="spacingAndGlyphs">3.33 K</text>
<g fill="#141414"><path d="M18.5 1374.1H37V1396.9H28.1V1382.8H18.5ZM54.3 1374.1H64.8L55.7 1396.9H45.2Z"/><circle cx="44.9" cy="1378.6" r="4.6"/></g>
<text x="76" y="1397" font-size="32" font-weight="bold" fill="#141414" textLength="187" lengthAdjust="spacingAndGlyphs">TradingView</text>
</svg>
</body></html>
